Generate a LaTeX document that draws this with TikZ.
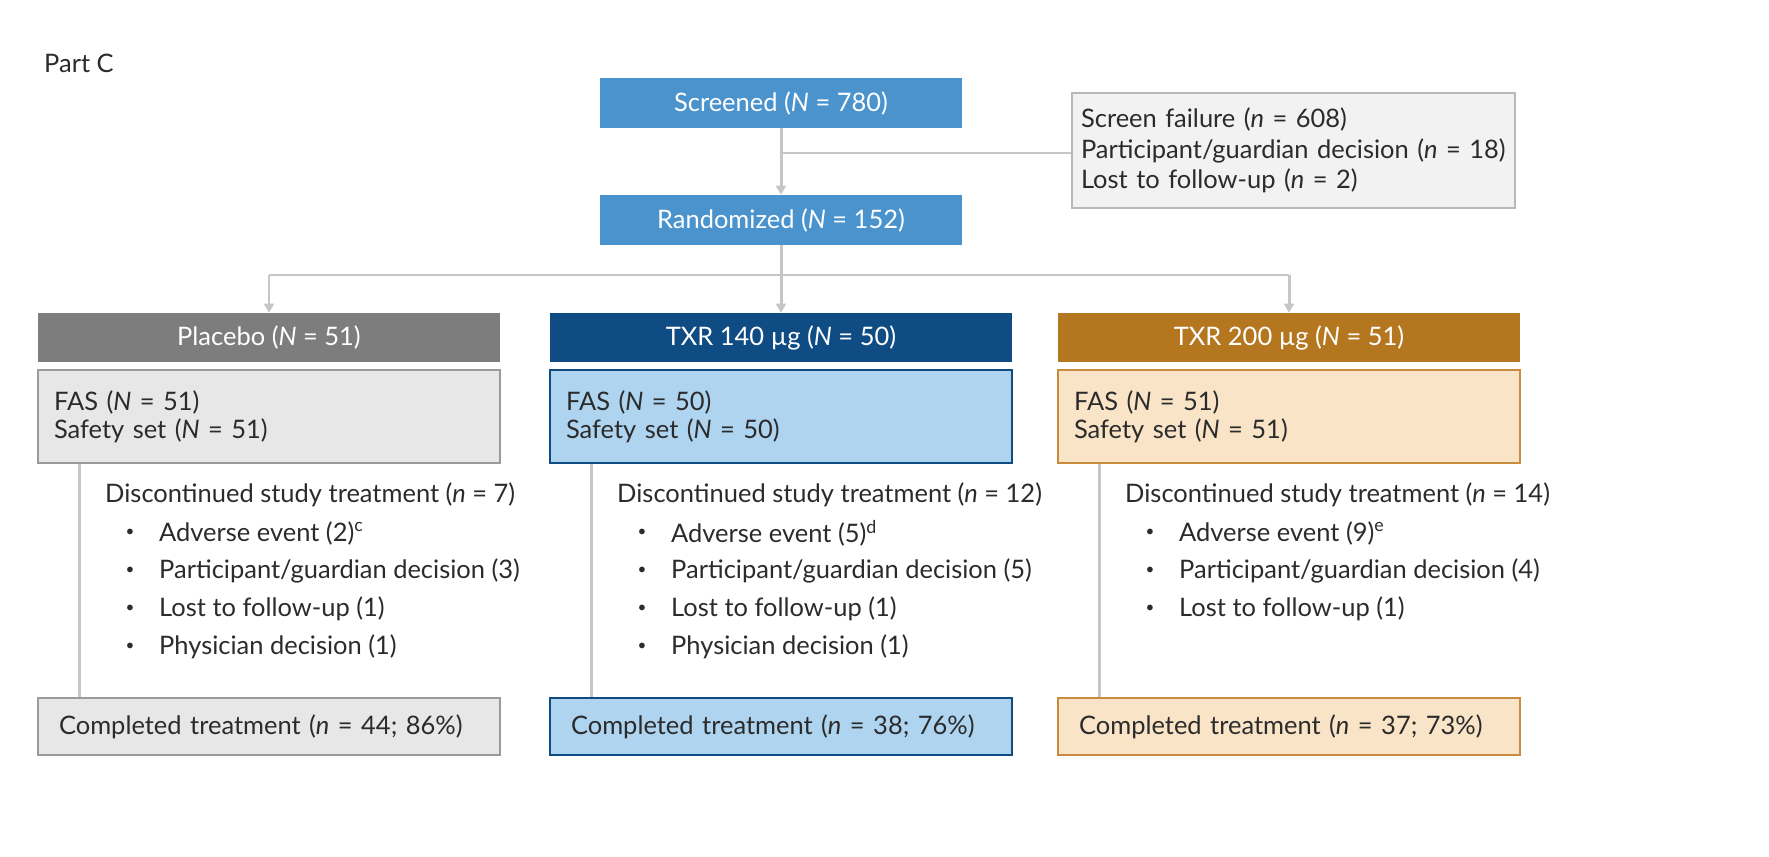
\documentclass[tikz,border=0pt]{standalone}
\usepackage{fontspec}
\setmainfont{Lato}
\usetikzlibrary{arrows.meta,positioning}
\definecolor{lnk}{HTML}{C6C6C6}
\definecolor{txt}{HTML}{2B2B2B}
\definecolor{scr}{HTML}{4B93CD}
\definecolor{plh}{HTML}{7D7D7D}
\definecolor{plb}{HTML}{E7E7E7}
\definecolor{plr}{HTML}{9A9A9A}
\definecolor{lowh}{HTML}{0F4C84}
\definecolor{lowb}{HTML}{AED4F0}
\definecolor{hih}{HTML}{B4771F}
\definecolor{hib}{HTML}{F9E4C7}
\definecolor{hir}{HTML}{C98B3E}
\tikzset{
  every node/.style={font=\fontsize{14.5}{16}\selectfont, text=txt},
  top/.style={fill=scr, text=white, minimum width=7.26cm, minimum height=1cm},
  head/.style={fill=#1, text=white, minimum width=9.24cm, minimum height=0.98cm},
  body/.style={fill=#1, minimum width=9.24cm, minimum height=1.86cm, text width=8.6cm, align=left, line width=1pt},
  done/.style={fill=#1, minimum width=9.24cm, minimum height=1.14cm, text width=8.4cm, align=left, line width=1pt},
  link/.style={draw=lnk, line width=1.7pt},
  tip/.style={link, -{Triangle[width=0.2cm,length=0.18cm]}}
}
\begin{document}
\begin{tikzpicture}[x=0.02cm,y=-0.02cm]
\useasboundingbox (0,0) rectangle (1769,856);

\node[anchor=west] (part) at (38,63) {Part C};

\node[top] (scr) at (781,103) {Screened (\emph{N} = 780)};
\node[top] (rnd) at (781,220) {Randomized (\emph{N} = 152)};
\node[draw=plr!70, fill=black!5, line width=1pt, minimum width=8.86cm, minimum height=2.3cm,
      text width=8.5cm, align=left] (fail) at (1293.5,150.5)
  {Screen failure (\emph{n} = 608)\\[1.5pt]Participant/guardian decision (\emph{n} = 18)\\[1.5pt]Lost to follow-up (\emph{n} = 2)};

\coordinate (br) at (781,153);
\coordinate (sp) at (781,275);
\draw[link] (br) -- (br -| fail.west);
\draw[tip] (scr) -- (rnd);
\draw[link] (rnd) -- (sp);

% three arms
\foreach \a/\x/\hc/\bc/\rc/\lab/\N/\D/\C in {
   p/269/plh/plb/plr/{Placebo}/51/7/{44; 86\%},
   l/781/lowh/lowb/lowh/{TXR 140 µg}/50/12/{38; 76\%},
   h/1289/hih/hib/hir/{TXR 200 µg}/51/14/{37; 73\%}}
{
  \node[head=\hc] (\a h) at (\x,337.5) {\lab\ (\emph{N} = \N)};
  \node[body=\bc, draw=\rc] (\a b) at (\x,416.5) {FAS (\emph{N} = \N)\\Safety set (\emph{N} = \N)};
  \node[done=\bc, draw=\rc] (\a c) at (\x,726.5) {Completed treatment (\emph{n} = \C)};
  \node[anchor=west] (\a d) at (\x-170,495) {Discontinued study treatment (\emph{n} = \D)};
  \coordinate (\a t) at ([xshift=0.84cm]\a b.south west);
  \draw[link] (\a t) -- (\a t |- \a c.north);
};
\draw[link] (ph |- sp) -- (hh |- sp);
\foreach \a in {p,l,h}
  \draw[tip] (\a h |- sp) -- (\a h);

\foreach \a/\x/\items in {
   p/269/{Adverse event (2)\textsuperscript{c},Participant/guardian decision (3),Lost to follow-up (1),Physician decision (1)},
   l/781/{Adverse event (5)\textsuperscript{d},Participant/guardian decision (5),Lost to follow-up (1),Physician decision (1)},
   h/1289/{Adverse event (9)\textsuperscript{e},Participant/guardian decision (4),Lost to follow-up (1)}}
{
  \foreach \t [count=\k] in \items
  {
    \node (\a u\k) at (\x-139,495+38*\k) {\scalebox{0.6}{\textbullet}};
    \node[anchor=west] (\a i\k) at (\x-116,495+38*\k) {\t};
  };
};
\end{tikzpicture}
\end{document}
